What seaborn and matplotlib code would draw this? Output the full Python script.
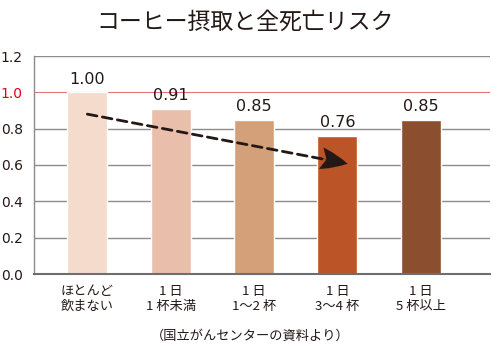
import matplotlib
matplotlib.use("Agg")
import matplotlib.pyplot as plt
import seaborn as sns
import pandas as pd

# data
categories = ["ほとんど\n飲まない", "1 日\n1 杯未満", "1 日\n1～2 杯", "1 日\n3～4 杯", "1 日\n5 杯以上"]
risk = [1.00, 0.91, 0.85, 0.76, 0.85]
bar_colors = ["#F5DBCB", "#E9BEAB", "#D4A07A", "#BB5426", "#8B4F2F"]
yticks = [0.0, 0.2, 0.4, 0.6, 0.8, 1.0, 1.2]

sns.set_theme(style="white")
plt.rcParams["font.family"] = ["Noto Sans CJK JP", "DejaVu Sans"]

df = pd.DataFrame({"cat": categories, "risk": risk})

fig = plt.figure(figsize=(4.92, 3.56), dpi=100)
ax = fig.add_axes([34 / 492, 1 - 274 / 356, 456 / 492, 218 / 356])

# grid lines behind the bars
for t in yticks[1:]:
    if t == 1.0:
        ax.axhline(t, color="#E8707A", lw=0.8, zorder=0)
    else:
        ax.axhline(t, color="#8C8C8C", lw=1.0, zorder=0)

sns.barplot(data=df, x="cat", y="risk", hue="cat", palette=bar_colors,
            legend=False, width=0.48, ax=ax, zorder=2, saturation=1)

for i, v in enumerate(risk):
    ax.text(i, v + 0.03, f"{v:.2f}", ha="center", va="bottom", fontsize=11.5,
            color="#231815", family="DejaVu Sans")

# dashed trend arrow
ax.annotate("", xy=(3.05, 0.613), xytext=(0.0, 0.88),
            arrowprops=dict(arrowstyle="-", color="#231815", lw=2,
                            linestyle=(0, (3.5, 2)), shrinkA=0, shrinkB=0),
            zorder=4)
ax.annotate("", xy=(3.12, 0.607), xytext=(2.9, 0.628),
            arrowprops=dict(arrowstyle="fancy,head_length=1.6,head_width=1.3,tail_width=0.01",
                            color="#231815", lw=0.1, shrinkA=0, shrinkB=0),
            zorder=4)

ax.set_xlim(-0.64, 4.83)
ax.set_ylim(0, 1.2)
ax.set_yticks(yticks)
ax.set_yticklabels([f"{t:.1f}" for t in yticks], family="DejaVu Sans")
for lbl, t in zip(ax.get_yticklabels(), yticks):
    lbl.set_color("#E60012" if t == 1.0 else "#231815")
ax.tick_params(axis="y", labelsize=10, length=0, pad=8)
ax.tick_params(axis="x", labelsize=9.5, length=0, pad=8, labelcolor="#231815")
ax.set_xlabel("")
ax.set_ylabel("")

for s in ["top", "right"]:
    ax.spines[s].set_visible(False)
ax.spines["left"].set_color("#8C8C8C")
ax.spines["left"].set_linewidth(1.0)
ax.spines["bottom"].set_color("#6E6E6E")
ax.spines["bottom"].set_linewidth(1.5)

fig.text(245 / 492, 1 - 22 / 356, "コーヒー摂取と全死亡リスク", ha="center", va="center",
         fontsize=16.5, color="#231815")
fig.text(250 / 492, 1 - 336 / 356, "（国立がんセンターの資料より）", ha="center", va="center",
         fontsize=9.5, color="#231815")

fig.savefig("out.png", dpi=100)
